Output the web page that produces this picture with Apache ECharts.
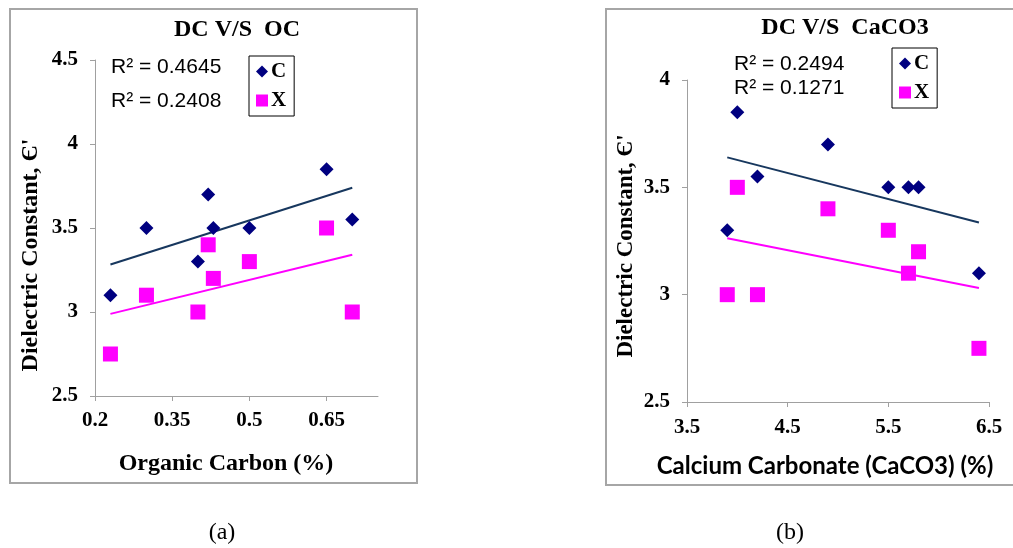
<!DOCTYPE html>
<html>
<head>
<meta charset="utf-8">
<script src="https://cdn.jsdelivr.net/npm/echarts@6/dist/echarts.min.js"></script>
<style>
  html, body { margin: 0; padding: 0; background: #fff; }
  #chart { width: 1013px; height: 548px; }
</style>
</head>
<body>
<div id="chart"></div>
<script>
// Organic carbon (%) of each sample and its dielectric constant for soils C and X
const ocValues = [0.23, 0.3, 0.4, 0.42, 0.43, 0.5, 0.65, 0.7];
const ocDielectricC = [3.1, 3.5, 3.3, 3.7, 3.5, 3.5, 3.85, 3.55];
const ocDielectricX = [2.75, 3.1, 3.0, 3.4, 3.2, 3.3, 3.5, 3.0];

// Calcium carbonate (%) of each sample and its dielectric constant for soils C and X
const caco3Values = [3.9, 4.0, 4.2, 4.9, 5.5, 5.7, 5.8, 6.4];
const caco3DielectricC = [3.3, 3.85, 3.55, 3.7, 3.5, 3.5, 3.5, 3.1];
const caco3DielectricX = [3.0, 3.5, 3.0, 3.4, 3.3, 3.1, 3.2, 2.75];

// Tick labels
const ocTicks = [0.2, 0.35, 0.5, 0.65];
const caco3Ticks = [3.5, 4.5, 5.5, 6.5];
const dcTicksA = [2.5, 3, 3.5, 4, 4.5];
const dcTicksB = [2.5, 3, 3.5, 4];

// Least-squares linear fit with coefficient of determination
function linearFit(xs, ys) {
  const n = xs.length;
  const mx = xs.reduce((a, b) => a + b, 0) / n;
  const my = ys.reduce((a, b) => a + b, 0) / n;
  let sxx = 0, sxy = 0, syy = 0;
  for (let i = 0; i < n; i++) {
    const dx = xs[i] - mx, dy = ys[i] - my;
    sxx += dx * dx; sxy += dx * dy; syy += dy * dy;
  }
  const slope = sxy / sxx;
  const intercept = my - slope * mx;
  const x0 = Math.min(...xs), x1 = Math.max(...xs);
  return {
    r2: (sxy * sxy) / (sxx * syy),
    line: [[x0, intercept + slope * x0], [x1, intercept + slope * x1]]
  };
}

const pairs = (xs, ys) => xs.map((x, i) => [x, ys[i]]);

const fitOcC = linearFit(ocValues, ocDielectricC);
const fitOcX = linearFit(ocValues, ocDielectricX);
const fitCaC = linearFit(caco3Values, caco3DielectricC);
const fitCaX = linearFit(caco3Values, caco3DielectricX);

const NAVY = '#000080';
const MAGENTA = '#ff00ff';
const TREND_NAVY = '#17375e';
const AXIS_GREY = '#a0a0a0';
const SERIF = '"Liberation Serif", "Times New Roman", serif';
const SANS = '"Liberation Sans", Arial, sans-serif';

const tickLabel = {
  fontFamily: SERIF, fontWeight: 'bold', fontSize: 21, color: '#000'
};

function valueAxis(gridIndex, min, max, ticks, margin) {
  return {
    type: 'value', gridIndex, min, max,
    axisLine: { show: true, lineStyle: { color: AXIS_GREY, width: 1 } },
    axisTick: { show: true, length: 5, lineStyle: { color: AXIS_GREY }, customValues: ticks },
    axisLabel: Object.assign({ margin, customValues: ticks }, tickLabel),
    splitLine: { show: false }
  };
}

const legendBase = {
  orient: 'vertical',
  data: [{ name: 'C', icon: 'diamond' }, { name: 'X', icon: 'rect' }],
  itemWidth: 12, itemHeight: 12, itemGap: 8,
  padding: [5, 8, 5, 7],
  borderColor: '#000', borderWidth: 1, borderRadius: 0,
  backgroundColor: '#fff',
  selectedMode: false,
  itemStyle: { opacity: 1 },
  textStyle: { fontFamily: SERIF, fontWeight: 'bold', fontSize: 21, color: '#000', padding: [0, 0, 0, -2] }
};

function label(x, y, str, font, align, extra) {
  return Object.assign({
    type: 'text', x, y, z: 100,
    style: { text: str, font, fill: '#000', align: align || 'center', verticalAlign: 'middle' }
  }, extra || {});
}

const scatterStyle = (color) => ({ color, opacity: 1 });

const chart = echarts.init(document.getElementById('chart'), null, { renderer: 'canvas' });

chart.setOption({
  animation: false,
  backgroundColor: '#fff',
  grid: [
    { left: 95, top: 60, width: 283, height: 336 },
    { left: 687, top: 80, width: 302, height: 322 }
  ],
  xAxis: [
    valueAxis(0, 0.2, 0.75, ocTicks, 14),
    valueAxis(1, 3.5, 6.5, caco3Ticks, 15)
  ],
  yAxis: [
    valueAxis(0, 2.5, 4.5, dcTicksA, 17),
    valueAxis(1, 2.5, 4, dcTicksB, 17)
  ],
  legend: [
    Object.assign({ left: 249, top: 56 }, legendBase),
    Object.assign({ left: 892, top: 48 }, legendBase)
  ],
  series: [
    { name: 'C trend OC', type: 'line', xAxisIndex: 0, yAxisIndex: 0, data: fitOcC.line,
      showSymbol: false, lineStyle: { color: TREND_NAVY, width: 2 }, z: 1 },
    { name: 'X trend OC', type: 'line', xAxisIndex: 0, yAxisIndex: 0, data: fitOcX.line,
      showSymbol: false, lineStyle: { color: MAGENTA, width: 2 }, z: 1 },
    { name: 'C', type: 'scatter', xAxisIndex: 0, yAxisIndex: 0, data: pairs(ocValues, ocDielectricC),
      symbol: 'diamond', symbolSize: 14, itemStyle: scatterStyle(NAVY), z: 3 },
    { name: 'X', type: 'scatter', xAxisIndex: 0, yAxisIndex: 0, data: pairs(ocValues, ocDielectricX),
      symbol: 'rect', symbolSize: 15, itemStyle: scatterStyle(MAGENTA), z: 2 },

    { name: 'C trend CaCO3', type: 'line', xAxisIndex: 1, yAxisIndex: 1, data: fitCaC.line,
      showSymbol: false, lineStyle: { color: TREND_NAVY, width: 2 }, z: 1 },
    { name: 'X trend CaCO3', type: 'line', xAxisIndex: 1, yAxisIndex: 1, data: fitCaX.line,
      showSymbol: false, lineStyle: { color: MAGENTA, width: 2 }, z: 1 },
    { name: 'C', type: 'scatter', xAxisIndex: 1, yAxisIndex: 1, data: pairs(caco3Values, caco3DielectricC),
      symbol: 'diamond', symbolSize: 14, itemStyle: scatterStyle(NAVY), z: 3 },
    { name: 'X', type: 'scatter', xAxisIndex: 1, yAxisIndex: 1, data: pairs(caco3Values, caco3DielectricX),
      symbol: 'rect', symbolSize: 15, itemStyle: scatterStyle(MAGENTA), z: 2 }
  ],
  graphic: [
    // chart frames
    { type: 'rect', shape: { x: 10, y: 9, width: 407, height: 474 }, z: -1,
      style: { fill: null, stroke: '#a6a6a6', lineWidth: 2 } },
    { type: 'rect', shape: { x: 606, y: 9, width: 420, height: 476 }, z: -1,
      style: { fill: null, stroke: '#a6a6a6', lineWidth: 2 } },

    // titles
    label(237, 30, 'DC V/S  OC', 'bold 24px ' + SERIF),
    label(845, 28, 'DC V/S  CaCO3', 'bold 24px ' + SERIF),

    // coefficients of determination
    label(111, 67, 'R² = ' + fitOcC.r2.toFixed(4), '21px ' + SANS, 'left'),
    label(111, 101, 'R² = ' + fitOcX.r2.toFixed(4), '21px ' + SANS, 'left'),
    label(734, 64, 'R² = ' + fitCaC.r2.toFixed(4), '21px ' + SANS, 'left'),
    label(734, 88, 'R² = ' + fitCaX.r2.toFixed(4), '21px ' + SANS, 'left'),

    // axis titles
    label(31, 255, "Dielectric Constant, Є'", 'bold 24px ' + SERIF, 'center', { rotation: Math.PI / 2 }),
    label(626, 246, "Dielectric Constant, Є'", 'bold 23px ' + SERIF, 'center', { rotation: Math.PI / 2 }),
    label(226, 464, 'Organic Carbon (%)', 'bold 24px ' + SERIF),
    label(825, 466, 'Calcium Carbonate (CaCO3) (%)', 'bold 24px Lato, ' + SANS),

    // panel captions
    label(222, 533, '(a)', '24px ' + SERIF),
    label(790, 533, '(b)', '24px ' + SERIF)
  ]
});
</script>
</body>
</html>
